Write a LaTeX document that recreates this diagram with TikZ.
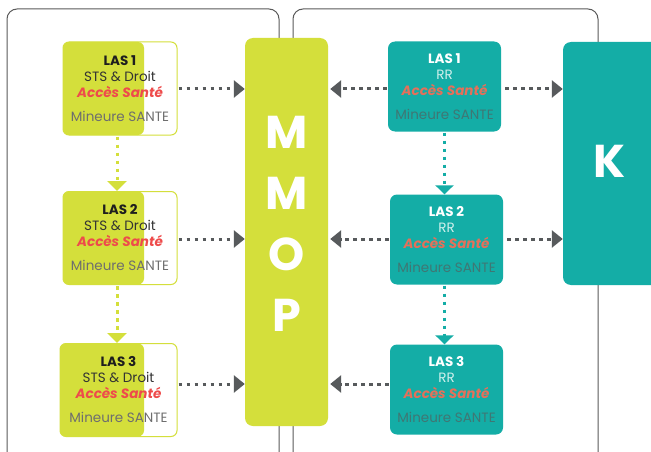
\documentclass[tikz,border=0pt]{standalone}
\usepackage{fontspec}
\setmainfont{Poppins}
\usetikzlibrary{arrows.meta}
\definecolor{limec}{HTML}{D4DF3B}
\definecolor{tealc}{HTML}{14ADA6}
\definecolor{arrgray}{HTML}{575A5C}
\definecolor{framec}{HTML}{5A5A5A}
\definecolor{darktxt}{HTML}{1E1E1E}
\definecolor{midtxt}{HTML}{333333}
\definecolor{redtxt}{HTML}{EE4B4B}
\definecolor{graytxt}{HTML}{6E6E6E}
\definecolor{salmontxt}{HTML}{E5705A}
\definecolor{rrtxt}{HTML}{CFF0EC}
\definecolor{tgraytxt}{HTML}{3F7774}
\tikzset{
  framestyle/.style={draw=framec, line width=1pt, rounded corners=10pt},
  limebox/.style={draw=limec, line width=1pt, fill=white, rounded corners=6pt,
    minimum width=114pt, minimum height=93pt, inner sep=0pt, align=center,
    font=\fontsize{13.5}{16}\selectfont,
    path picture={\fill[limec] (path picture bounding box.south west) rectangle ([xshift=-33pt]path picture bounding box.north east);}},
  tealbox/.style={fill=tealc, rounded corners=7pt, minimum width=113pt, minimum height=90pt,
    inner sep=0pt, align=center, font=\fontsize{13.5}{16}\selectfont},
  bar/.style={rounded corners=8pt, inner sep=0pt},
  bigletters/.style={text=white, align=center, font=\fontsize{46}{61}\selectfont\bfseries},
  gar/.style={draw=arrgray, line width=3pt, dash pattern=on 3.6pt off 4.4pt,
    -{Triangle[length=11pt,width=17pt]}},
  lar/.style={draw=limec, line width=3pt, dash pattern=on 3.6pt off 4.4pt,
    -{Triangle[length=10pt,width=19pt]}},
  tar/.style={draw=tealc, line width=3pt, dash pattern=on 3.6pt off 4.4pt,
    -{Triangle[length=9pt,width=18pt]}},
}
\newcommand{\limetext}[1]{{\bfseries\color{darktxt}LAS #1}\\{\color{midtxt}STS \& Droit}\\{\bfseries\itshape\color{redtxt}Accès Santé}\\[8pt]{\color{graytxt}Mineure SANTE}}
\newcommand{\tealtext}[1]{{\bfseries\color{white}LAS #1}\\{\color{rrtxt}RR}\\{\bfseries\itshape\color{salmontxt}Accès Santé}\\[8pt]{\color{tgraytxt}Mineure SANTE}}
\begin{document}
\begin{tikzpicture}[x=1pt,y=-1pt]
\useasboundingbox (0,0) rectangle (651,452);
\clip (0,0) rectangle (651,452);
\fill[white] (0,0) rectangle (651,452);
% frames
\draw[framestyle] (7,480) |- (279,9) -- (279,480);
\draw[framestyle] (293,480) |- (598,9) -- (598,480);
% bars
\node[bar, fill=limec, minimum width=83pt, minimum height=388pt] (mmop) at (286.5,232) {};
\node[bigletters] (mmoptxt) at (286.5,224) {M\\M\\O\\P};
\node[bar, fill=tealc, minimum width=102pt, minimum height=243pt] (kbar) at (614,163.5) {};
\node[bigletters] (ktxt) at (610,161) {K};
% lime boxes
\node[limebox] (l1) at (120,88.5) {\limetext{1}};
\node[limebox] (l2) at (120,238) {\limetext{2}};
\node[limebox, minimum width=117pt] (l3) at (118.5,390) {\limetext{3}};
% teal boxes
\node[tealbox] (t1) at (444.5,86.5) {\tealtext{1}};
\node[tealbox] (t2) at (446.5,239.5) {\tealtext{2}};
\node[tealbox] (t3) at (446.5,389.5) {\tealtext{3}};
% gray arrows left
\draw[gar, shorten <=1pt] ([yshift=-0.5pt]l1.east) -- ([yshift=-0.5pt]l1.east -| mmop.west);
\draw[gar, shorten <=1pt] ([yshift=-1pt]l2.east) -- ([yshift=-1pt]l2.east -| mmop.west);
\draw[gar, shorten <=1pt] ([yshift=6pt]l3.east) -- ([yshift=6pt]l3.east -| mmop.west);
% gray arrows right
\draw[gar, shorten <=1pt, shorten >=2pt] ([yshift=-2.5pt]t1.west) -- ([yshift=-2.5pt]t1.west -| mmop.east);
\draw[gar, shorten <=4pt] ([yshift=-2.5pt]t1.east) -- ([yshift=-2.5pt]t1.east -| kbar.west);
\draw[gar, shorten <=1pt, shorten >=2pt] ([yshift=0.5pt]t2.west) -- ([yshift=0.5pt]t2.west -| mmop.east);
\draw[gar, shorten <=4pt] ([yshift=0.5pt]t2.east) -- ([yshift=0.5pt]t2.east -| kbar.west);
\draw[gar, shorten <=1pt, shorten >=2pt] ([yshift=5.5pt]t3.west) -- ([yshift=5.5pt]t3.west -| mmop.east);
% vertical arrows
\draw[lar, shorten <=1pt] ([xshift=-3pt]l1.south) -- ([xshift=-3pt]l1.south |- l2.north);
\draw[lar, shorten <=1pt] ([xshift=-3pt]l2.south) -- ([xshift=-3pt]l2.south |- l3.north);
\draw[tar, shorten <=1pt] (t1.south) -- (t1.south |- t2.north);
\draw[tar, shorten <=1pt] ([xshift=-2pt]t2.south) -- ([xshift=-2pt]t2.south |- t3.north);
\end{tikzpicture}
\end{document}
